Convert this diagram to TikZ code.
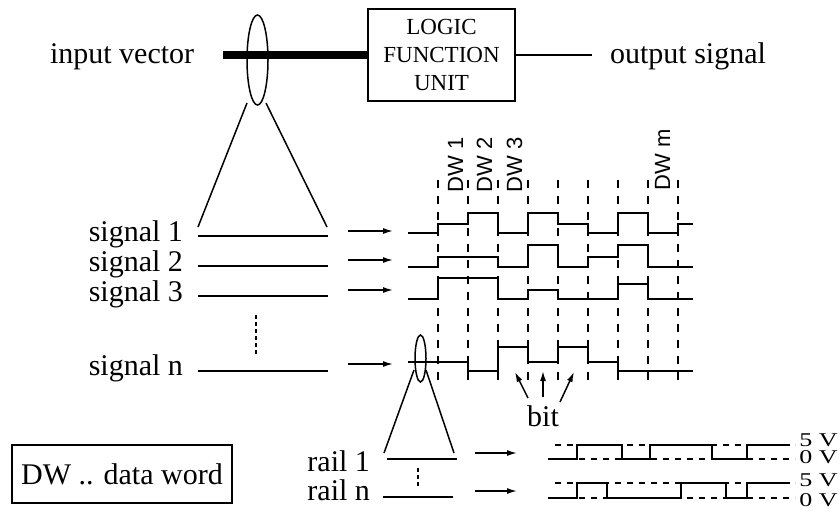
\documentclass[tikz,border=0pt]{standalone}
\usepackage{fontspec}
\setmainfont{Liberation Serif}
\setsansfont{Liberation Sans}
\usetikzlibrary{
  positioning,
  arrows.meta,
  calc
}

\begin{document}
\begin{tikzpicture}[
  >={Latex[length=5pt,width=3pt]},
  x=0.5pt, y=-0.5pt,
  font=\fontsize{15}{18}\selectfont,
  thinline/.style={line width=0.75pt},
  wave/.style={line width=1.4pt},
  railwave/.style={line width=0.9pt},
  wordsep/.style={line width=0.7pt, dash pattern=on 4pt off 4pt},
  level/.style={line width=0.6pt, dash pattern=on 3pt off 3pt},
  dwlabel/.style={rotate=90, anchor=base west, inner sep=0pt,
    font=\sffamily\fontsize{11}{13}\selectfont},
  volt/.style={anchor=base west, inner sep=0pt, font=\fontsize{13}{15}\selectfont}
]
  \useasboundingbox (0,0) rectangle (840,515);

  % logic unit with its input bus and output
  \node[draw, line width=1pt, minimum width=73.5pt, minimum height=46pt,
    align=center, font=\fontsize{11.5}{14}\selectfont]
    (lfu) at (441.5,55) {LOGIC\\FUNCTION\\UNIT};
  \node[anchor=base west] (invec) at (43,63) {input vector};
  \node[anchor=base west] (outsig) at (603,63) {output signal};
  \coordinate (busstart) at (223,55);
  \coordinate (outend) at (592,55);
  \draw[line width=4pt] (busstart) -- (lfu.west);
  \draw[thinline] (lfu.east) -- (outend);

  % the bus opened up into its single lines
  \draw[thinline] (257.5,60) ellipse [x radius=5.25pt, y radius=22.5pt];
  \draw[thinline] (247,103) -- (198,227);
  \draw[thinline] (266,103) -- (327,227);

  \foreach \n/\ly/\ty/\ay in {1/236/241/231, 2/266/271/260, 3/296/301/290, n/371/375/364} {
    \node[anchor=base east] (sig\n) at (190,\ty) {signal \n};
    \coordinate (la\n) at (198,\ly);
    \coordinate (lb\n) at (328,\ly);
    \draw[thinline] (la\n) -- (lb\n);
    \coordinate (aa\n) at (348,\ay);
    \coordinate (ab\n) at (393,\ay);
    \draw[thinline, ->] (aa\n) -- (ab\n);
  }
  \draw[thinline, dash pattern=on 2pt off 1.5pt] (256,315) -- (256,355);

  % data word boundaries
  \foreach \k in {0,...,8}
    \draw[wordsep] ({438+30*\k},180) -- ({438+30*\k},385);
  \node[dwlabel] (dw1) at (463,193) {DW 1};
  \node[dwlabel] (dw2) at (492,193) {DW 2};
  \node[dwlabel] (dw3) at (522,193) {DW 3};
  \node[dwlabel] (dwm) at (670,191) {DW m};

  % signal waveforms
  \draw[wave] (408,233) -- (438,233) |- (468,224) |- (498,213) |- (528,233)
    |- (558,213) |- (588,224) |- (618,233) |- (648,213) |- (678,233) |- (693,224);
  \draw[wave] (408,267) -- (438,267) |- (498,257) |- (528,267) |- (558,245)
    |- (588,267) |- (618,257) |- (648,245) |- (693,267);
  \draw[wave] (408,299) -- (438,299) |- (498,278) |- (528,299) |- (558,290)
    |- (618,299) |- (648,284) |- (693,299);
  \draw[wave] (408,362) -- (468,362) |- (498,371) |- (528,347) |- (558,362)
    |- (588,347) |- (618,362) |- (693,371);

  % one bit split into rails
  \node[anchor=base] (bit) at (543,426) {bit};
  \coordinate (bt1) at (515,372);
  \coordinate (bt2) at (543,371);
  \coordinate (bt3) at (574,372);
  \draw[thinline, ->] (528,398) -- (bt1);
  \draw[thinline, ->] (543,397) -- (bt2);
  \draw[thinline, ->] (560,402) -- (bt3);

  \draw[thinline] (420.5,358.5) ellipse [x radius=2.75pt, y radius=11.75pt];
  \draw[thinline] (414,370) -- (384,453);
  \draw[thinline] (426,370) -- (454,453);

  \node[anchor=base east] (rail1) at (377,471) {rail 1};
  \node[anchor=base east] (railn) at (377,500) {rail n};
  \coordinate (r1a) at (387,459);
  \coordinate (r1b) at (457,459);
  \coordinate (rna) at (383,497);
  \coordinate (rnb) at (453,497);
  \draw[thinline] (r1a) -- (r1b);
  \draw[thinline] (rna) -- (rnb);
  \draw[thinline, dash pattern=on 2pt off 1.5pt] (418,468) -- (418,488);
  \coordinate (ra1) at (475,453);
  \coordinate (rb1) at (517,453);
  \coordinate (ran) at (475,491);
  \coordinate (rbn) at (517,491);
  \draw[thinline, ->] (ra1) -- (rb1);
  \draw[thinline, ->] (ran) -- (rbn);

  % rail levels
  \draw[level] (555,445) -- (795,445);
  \draw[level] (555,459) -- (795,459);
  \draw[level] (555,483) -- (795,483);
  \draw[level] (555,498) -- (795,498);
  \draw[railwave] (548,459) -- (577,459) |- (622,445) |- (650,459) |- (712,445)
    |- (747,459) |- (790,445);
  \draw[railwave] (548,498) -- (577,498) |- (607,483) |- (681,498) |- (726,483)
    |- (747,498) |- (790,483);
  \node[volt] (v5a) at (799,446) {\scalebox{1}[0.75]{5 V}};
  \node[volt] (v0a) at (799,463) {\scalebox{1}[0.75]{0 V}};
  \node[volt] (v5b) at (799,486) {\scalebox{1}[0.75]{5 V}};
  \node[volt] (v0b) at (799,506) {\scalebox{1}[0.75]{0 V}};

  \node[draw, line width=0.8pt, minimum width=110pt, minimum height=29pt]
    (legend) at (122,474) {DW .. data word};
\end{tikzpicture}
\end{document}
